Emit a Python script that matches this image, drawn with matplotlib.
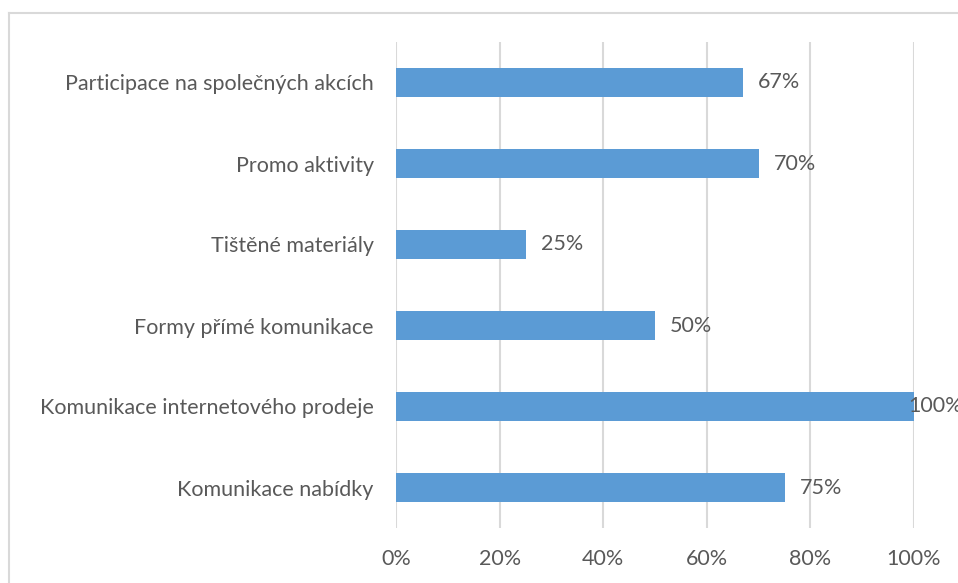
import matplotlib.pyplot as plt
from matplotlib.lines import Line2D

categories = ["Komunikace nabídky", "Komunikace internetového prodeje",
              "Formy přímé komunikace", "Tištěné materiály",
              "Promo aktivity", "Participace na společných akcích"]
values = [75, 100, 50, 25, 70, 67]
ticks = [0, 20, 40, 60, 80, 100]

plt.rcParams['font.family'] = ['Lato', 'DejaVu Sans']
text_col = "#595959"
grid_col = "#D9D9D9"
fs = 15.5

fig = plt.figure(figsize=(9.58, 5.83), dpi=100)
fig.patch.set_facecolor("white")
ax = fig.add_axes([396 / 958, 1 - 528 / 583, 518 / 958, 486 / 583])

# outer chart border (top and left visible)
fig.add_artist(Line2D([9 / 958, 9 / 958], [0, 1 - 13 / 583], transform=fig.transFigure,
                      color=grid_col, lw=1.5))
fig.add_artist(Line2D([9 / 958, 1], [1 - 13 / 583, 1 - 13 / 583], transform=fig.transFigure,
                      color=grid_col, lw=1.5))

y = range(len(categories))
ax.barh(y, values, height=0.37, color="#5B9BD5", zorder=3)
ax.set_xlim(0, 100)
ax.set_ylim(-0.5, len(categories) - 0.5)
ax.set_yticks(list(y))
ax.set_yticklabels(categories, fontsize=fs, color=text_col)
ax.set_xticks(ticks)
ax.set_xticklabels([f"{t}%" for t in ticks], fontsize=fs, color=text_col)
ax.tick_params(length=0)
ax.tick_params(axis="y", pad=16)
ax.tick_params(axis="x", pad=15)
ax.grid(axis="x", color=grid_col, lw=1.5, zorder=0)
for s in ax.spines.values():
    s.set_visible(False)

for i, v in enumerate(values):
    off = 11 if v < 100 else -4
    ax.annotate(f"{v}%", (v, i), xytext=(off, 0), textcoords="offset points",
                va="center", ha="left", fontsize=fs, color=text_col,
                annotation_clip=False, zorder=4)

fig.savefig("out.png", dpi=100)
